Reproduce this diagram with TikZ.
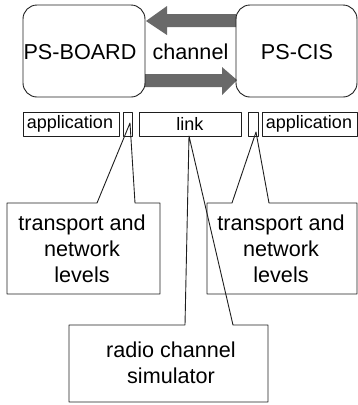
\documentclass[tikz,border=0pt]{standalone}
\usepackage{fontspec}
\setmainfont{Liberation Sans}
\definecolor{arrowgray}{RGB}{105,105,105}
\definecolor{linecol}{RGB}{30,30,30}
\begin{document}
\begin{tikzpicture}[x=1pt,y=-1pt,
  bigtxt/.style={font=\fontsize{21.6}{25.8}\selectfont, align=center, inner sep=0pt, text=black},
  smalltxt/.style={font=\fontsize{18}{21}\selectfont, inner sep=0pt, text=black},
  ln/.style={draw=linecol, line width=0.9pt, line join=round},
  blockarrow/.style={fill=arrowgray, draw=none}]
\useasboundingbox (0,0) rectangle (358,405);

% block arrows of the channel
\fill[blockarrow] (236,14) -- (167,14) -- (167,6) -- (146,21) -- (167,35) -- (167,27) -- (236,27) -- cycle;
\fill[blockarrow] (145,74) -- (222,74) -- (222,67) -- (237,80) -- (222,95) -- (222,87) -- (145,87) -- cycle;

% main boxes
\draw[ln, rounded corners=14pt] (23,5) rectangle (145,97);
\draw[ln, rounded corners=14pt] (236,5) rectangle (357,97);
\node[bigtxt] (board) at (80,52) {PS-BOARD};
\node[bigtxt] (cis) at (297,52) {PS-CIS};
\node[bigtxt] (channel) at (190.5,52) {channel};

% layer row
\draw[ln] (23,112) rectangle (119,136);
\draw[ln] (123,112) rectangle (132,136);
\draw[ln] (139,112) rectangle (241,136);
\draw[ln] (248,112) rectangle (258,136);
\draw[ln] (262,112) rectangle (357,136);
\node[smalltxt] (appL) at (70,124) {application};
\node[smalltxt] (link) at (190,124) {link};
\node[smalltxt] (appR) at (309,124) {application};

% callouts
\coordinate (tipL) at (130,123);
\coordinate (tipR) at (256,132);
\coordinate (tipM) at (189,136);
\draw[ln] (7,203) -- (97,203) -- (tipL) -- (135,203) -- (160,203) -- (160,294) -- (7,294) -- cycle;
\draw[ln] (207,203) -- (232,203) -- (tipR) -- (269,203) -- (357,203) -- (357,294) -- (207,294) -- cycle;
\draw[ln] (69,325) -- (185,325) -- (tipM) -- (233,325) -- (268,325) -- (268,402) -- (69,402) -- cycle;

\node[bigtxt] (tnL) at (82,249) {transport and\\network\\levels};
\node[bigtxt] (tnR) at (281,249) {transport and\\network\\levels};
\node[bigtxt] (radio) at (171,363) {radio channel\\simulator};
\end{tikzpicture}
\end{document}
